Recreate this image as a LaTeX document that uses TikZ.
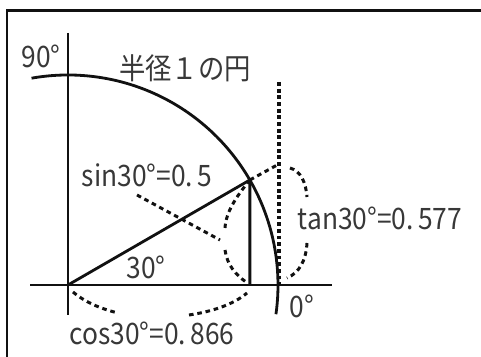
\documentclass[tikz,border=0pt]{standalone}
\usepackage{fontspec}
\setmainfont{Noto Sans CJK JP}
\usetikzlibrary{calc}
\definecolor{trink}{HTML}{111111}
\definecolor{trtext}{HTML}{383838}
\tikzset{
  axis/.style={draw=trink,line width=1.5pt},
  unit/.style={draw=trink,line width=1.6pt},
  guide/.style={draw=trink,line width=1.8pt,dash pattern=on 2.2pt off 1.6pt},
  brace/.style={draw=trink,line width=1.7pt,dash pattern=on 2.6pt off 2.2pt},
  lbl/.style={text=trtext,inner sep=0pt,yscale=1.12,font=\fontsize{15}{18}\selectfont},
}
\begin{document}
\begin{tikzpicture}[x=0.02cm,y=0.02cm]
  \useasboundingbox (0,0) rectangle (481,357);
  \draw[line width=1.7pt,trink] (7,0) -- (7,346) -- (481,346);
  \coordinate (O) at (68,72);
  \coordinate (P) at ($(O)+(30:210)$);
  \coordinate (Q) at (P|-O);
  \coordinate (T) at ($(O)+(211,121)$);
  \coordinate (A) at ($(O)+(211,0)$);
  \draw[axis] (30,72) -- (332,72);
  \draw[axis] (68,324) -- (68,42);
  \draw[unit] ($(O)+(100:210)$) arc[start angle=100,end angle=-8,radius=210];
  \draw[unit] (O) -- (P) -- (Q);
  \draw[guide] (279,275) -- (A);
  \draw[brace] (P) -- (T);
  \draw[brace] (P) .. controls (236,160) and (226,145) .. (225,129);
  \draw[brace] (225,107) .. controls (227,92) and (236,82) .. (246,75);
  \draw[brace] (137,162) -- (220,117);
  \draw[brace] (290,189) .. controls (301,186) and (306,174) .. (307,160);
  \draw[brace] (307,114) .. controls (306,96) and (299,84) .. (287,79);
  \draw[brace] (73,65) .. controls (86,54) and (102,48) .. (118,44);
  \draw[brace] (189,42) .. controls (210,45) and (233,52) .. (247,64);
  \node[lbl] (ninety) at (41,301) {90°};
  \node[lbl] (title) at (185,289) {半径１の円};
  \node[lbl] (sinl) at (147,182) {sin30°=0.\,5};
  \node[lbl] (tanl) at (380,139) {tan30°=0.\,577};
  \node[lbl] (angl) at (146,90) {30°};
  \node[lbl] (zero) at (302,51) {0°};
  \node[lbl] (cosl) at (152,24) {cos30°=0.\,866};
\end{tikzpicture}
\end{document}
